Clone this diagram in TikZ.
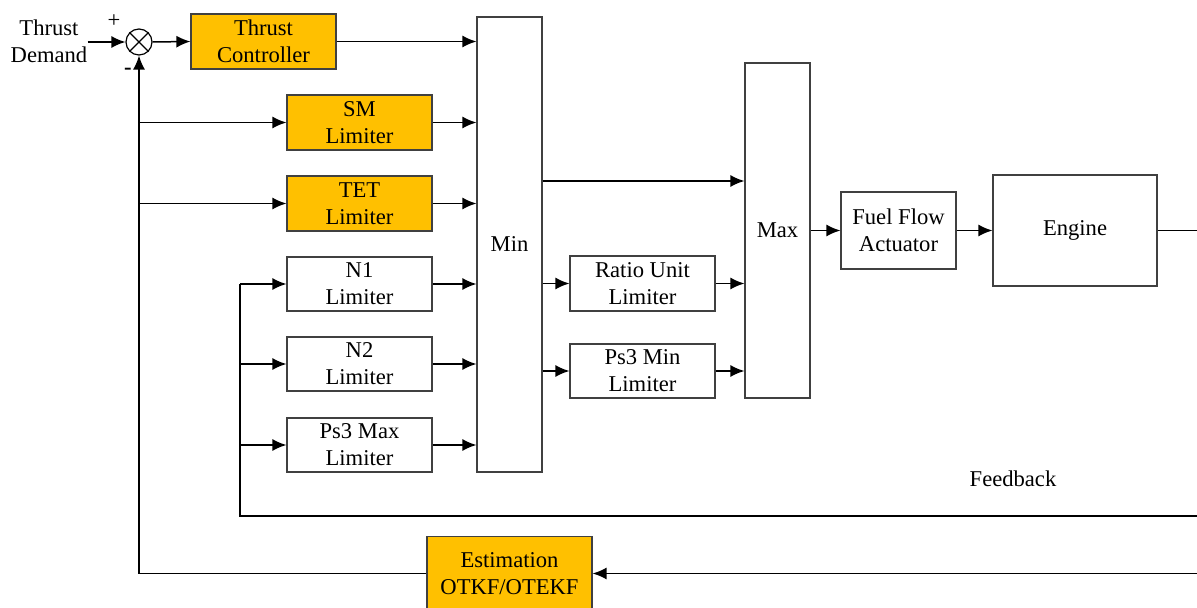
\documentclass[tikz,border=0pt]{standalone}
\usepackage{fontspec}
\setmainfont{Liberation Serif}
\usetikzlibrary{arrows.meta}
\usetikzlibrary{positioning}

\newcommand{\lblfont}{\fontsize{11.3}{13.5}\selectfont}
\definecolor{limorange}{HTML}{FFC000}
\definecolor{boxline}{HTML}{404040}

\tikzset{
  blk/.style={rectangle,draw=boxline,line width=0.6pt,fill=white,align=center,font=\lblfont,inner sep=1pt},
  orangeblk/.style={blk,fill=limorange},
  arr/.style={-{Latex[length=7pt,width=6pt]},line width=0.75pt},
  fbline/.style={line width=1pt}
}

\begin{document}
\begin{tikzpicture}[x=0.5pt,y=-0.5pt]
\useasboundingbox (0,0) rectangle (1197,608);

% input and summing junction
\node[font=\lblfont,align=center,inner sep=0pt] (tdemand) at (49,41) {Thrust\\Demand};
\node[circle,draw,line width=0.6pt,minimum size=13pt,inner sep=0pt] (sum) at (139,42) {};
\draw[line width=0.6pt] (sum.north west) -- (sum.south east);
\draw[line width=0.6pt] (sum.north east) -- (sum.south west);
\node[font=\lblfont] (plus) at (114,21) {+};
\node[font=\lblfont\bfseries] (minus) at (128,71) {-};

% controller and limiters
\node[orangeblk,minimum width=72.5pt,minimum height=27.5pt] (thrustctl) at (263.5,41.5) {Thrust\\Controller};
\node[orangeblk,minimum width=72.5pt,minimum height=27.5pt] (sm) at (359.5,122.5) {SM\\Limiter};
\node[orangeblk,minimum width=72.5pt,minimum height=27.5pt] (tet) at (359.5,203.5) {TET\\Limiter};
\node[blk,minimum width=72.5pt,minimum height=27pt] (n1) at (359.5,284) {N1\\Limiter};
\node[blk,minimum width=72.5pt,minimum height=27pt] (n2) at (359.5,364) {N2\\Limiter};
\node[blk,minimum width=72.5pt,minimum height=27pt] (psmax) at (359.5,445) {Ps3 Max\\Limiter};

% min / max selection
\node[blk,minimum width=32.5pt,minimum height=227.5pt] (min) at (509.5,244.5) {Min};
\node[blk,minimum width=72.5pt,minimum height=27.5pt] (ratio) at (642.5,283.5) {Ratio Unit\\Limiter};
\node[blk,minimum width=72.5pt,minimum height=27pt] (psmin) at (642.5,371) {Ps3 Min\\Limiter};
\node[blk,minimum width=32.5pt,minimum height=167.5pt] (max) at (777.5,230.5) {Max};

% actuator and engine
\node[blk,minimum width=57.5pt,minimum height=38.5pt] (ffa) at (898.5,230.5) {Fuel Flow\\Actuator};
\node[blk,minimum width=82pt,minimum height=55.5pt] (engine) at (1075,230.5) {Engine};

% estimator
\node[orangeblk,minimum width=82.5pt,minimum height=37pt] (est) at (509.5,573.5) {Estimation\\OTKF/OTEKF};
\node[font=\lblfont] (fblabel) at (1013,479) {Feedback};

% free ends
\coordinate (eout) at (1197,230.5);
\coordinate (fbr) at (1197,516);
\coordinate (fbl) at (240,516);
\coordinate (estr) at (1197,573.5);
\coordinate (fbx) at (139,573.5);

% forward path
\draw[arr] (tdemand.east |- sum.west) -- (sum.west);
\draw[arr] (sum.east) -- (thrustctl.west);
\draw[arr] (thrustctl.east) -- (min.west |- thrustctl.east);
\draw[arr] (sm.east) -- (min.west |- sm.east);
\draw[arr] (tet.east) -- (min.west |- tet.east);
\draw[arr] (n1.east) -- (min.west |- n1.east);
\draw[arr] (n2.east) -- (min.west |- n2.east);
\draw[arr] (psmax.east) -- (min.west |- psmax.east);
\draw[arr] (min.east |- 0,181) -- (max.west |- 0,181);
\draw[arr] (min.east |- ratio.west) -- (ratio.west);
\draw[arr] (min.east |- psmin.west) -- (psmin.west);
\draw[arr] (ratio.east) -- (max.west |- ratio.east);
\draw[arr] (psmin.east) -- (max.west |- psmin.east);
\draw[arr] (max.east) -- (ffa.west);
\draw[arr] (ffa.east) -- (engine.west);
\draw[line width=0.75pt] (engine.east) -- (eout);

% feedback paths
\draw[fbline] (fbr) -- (fbl) -- (fbl |- n1.west);
\draw[arr] (fbl |- n1.west) -- (n1.west);
\draw[arr] (fbl |- n2.west) -- (n2.west);
\draw[arr] (fbl |- psmax.west) -- (psmax.west);
\draw[arr] (estr) -- (est.east);
\draw[arr] (est.west) -- (fbx) -- (sum.south);
\draw[arr] (fbx |- sm.west) -- (sm.west);
\draw[arr] (fbx |- tet.west) -- (tet.west);

\end{tikzpicture}
\end{document}
